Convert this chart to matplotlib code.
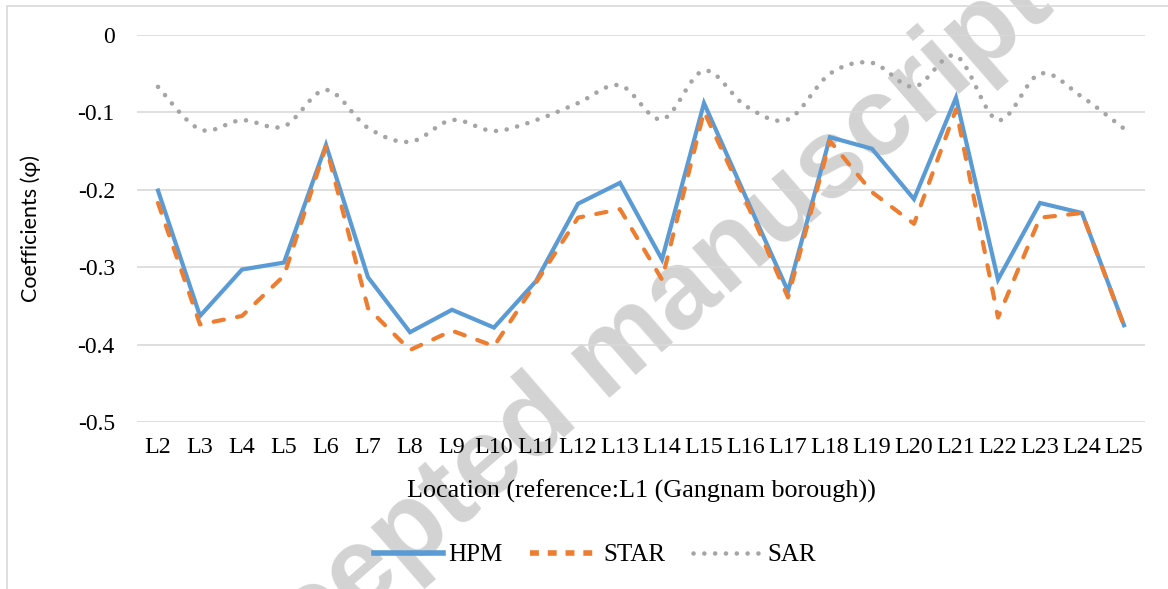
import numpy as np
import matplotlib
matplotlib.use("Agg")
import matplotlib.pyplot as plt
from matplotlib.path import Path
from matplotlib.patches import PathPatch, Rectangle
from matplotlib.lines import Line2D

# data
locations = ["L%d" % i for i in range(2, 26)]
hpm = [-0.201, -0.363, -0.303, -0.294, -0.142, -0.313, -0.384, -0.355, -0.378, -0.318,
       -0.218, -0.191, -0.290, -0.088, -0.210, -0.331, -0.132, -0.147, -0.212, -0.081,
       -0.316, -0.217, -0.230, -0.375]
star = [-0.217, -0.374, -0.363, -0.311, -0.144, -0.353, -0.407, -0.382, -0.402, -0.320,
        -0.236, -0.225, -0.316, -0.099, -0.215, -0.339, -0.137, -0.203, -0.244, -0.096,
        -0.365, -0.236, -0.230, -0.376]
sar = [-0.067, -0.122, -0.110, -0.118, -0.071, -0.120, -0.138, -0.110, -0.124, -0.110,
       -0.088, -0.065, -0.109, -0.046, -0.092, -0.109, -0.050, -0.036, -0.067, -0.027,
       -0.110, -0.050, -0.080, -0.121]
y_ticks = [0, -0.1, -0.2, -0.3, -0.4, -0.5]
y_tick_labels = ["0", "-0.1", "-0.2", "-0.3", "-0.4", "-0.5"]

blue = "#5B9BD5"
orange = "#ED7D31"
grey = "#A5A5A5"
serif = ["Liberation Serif", "DejaVu Serif"]
fs = 17


def smooth_path(xs, ys):
    # excel-like smoothed line: cubic bezier through every point
    pts = np.column_stack([xs, ys]).astype(float)
    n = len(pts)
    verts = [pts[0]]
    codes = [Path.MOVETO]
    for i in range(n - 1):
        p0 = pts[i - 1] if i > 0 else pts[i]
        p1 = pts[i]
        p2 = pts[i + 1]
        p3 = pts[i + 2] if i + 2 < n else pts[i + 1]
        c1 = p1 + (p2 - p0) / 6.0
        c2 = p2 - (p3 - p1) / 6.0
        verts += [c1, c2, p2]
        codes += [Path.CURVE4] * 3
    return Path(verts, codes)


fig = plt.figure(figsize=(11.68, 5.89), dpi=100)
ax = fig.add_axes([137 / 1168, 1 - 422 / 589, 1008 / 1168, 387 / 589])

x = np.arange(len(locations))

ax.plot(x, hpm, color=blue, lw=3, solid_joinstyle="miter", zorder=4)
ax.plot(x, star, color=orange, lw=3, linestyle=(0, (2.5, 3.2)),
        dash_capstyle="round", zorder=5)
sar_patch = PathPatch(smooth_path(x, sar), fill=False, edgecolor=grey, lw=3.3,
                      linestyle=(0, (0.01, 2.35)), zorder=3)
sar_patch.set_capstyle("round")
ax.add_patch(sar_patch)

ax.set_xlim(-0.5, len(locations) - 0.5)
ax.set_ylim(-0.5, 0)
ax.set_xticks(x)
ax.set_xticklabels(locations, fontsize=17.3, family=serif)
ax.set_yticks(y_ticks)
ax.set_yticklabels(y_tick_labels, fontsize=fs, family=serif)
ax.tick_params(axis="both", length=0)
ax.tick_params(axis="y", pad=16)
ax.tick_params(axis="x", pad=11)
ax.yaxis.grid(True, color="#D9D9D9", lw=1.2)
ax.set_axisbelow(True)
for s in ax.spines.values():
    s.set_visible(False)

ax.set_xlabel("Location (reference:L1 (Gangnam borough))", fontsize=18.8, family=serif,
              labelpad=15)
fig.text(31 / 1168, 1 - 228 / 589, "Coefficients (\u03c6)", rotation=90, fontsize=15.5,
         family=["Lato", "DejaVu Sans"], ha="center", va="center")

handles = [Line2D([], [], color=blue, lw=4),
           Line2D([], [], color=orange, lw=4, linestyle=(0, (1.6, 1.6))),
           Line2D([], [], color=grey, lw=3.3, linestyle=(0, (0.01, 2.35)),
                  dash_capstyle="round")]
fig.legend(handles, ["HPM", "STAR", "SAR"], loc="center", ncol=3,
           bbox_to_anchor=(595 / 1168, 1 - 555 / 589), frameon=False,
           prop={"family": serif, "size": 18}, handlelength=2.75, handletextpad=0.2,
           columnspacing=1.1)

# watermark, behind everything drawn in the axes
ax.text(611 / 1168, 1 - 358 / 589, "Accepted manuscript", transform=fig.transFigure,
        rotation=41, rotation_mode="anchor", ha="center", va="center", fontsize=80,
        fontweight="bold", family=["Liberation Sans", "DejaVu Sans"], color="#D3D3D3",
        clip_on=False, zorder=0.2)

# chart area border
fig.patches.append(Rectangle((7 / 1168, -0.1), 1.2, 1 - 6 / 589 + 0.1, fill=False,
                             edgecolor="#D9D9D9", lw=1.2, transform=fig.transFigure,
                             figure=fig))

fig.savefig("out.png", dpi=100)
